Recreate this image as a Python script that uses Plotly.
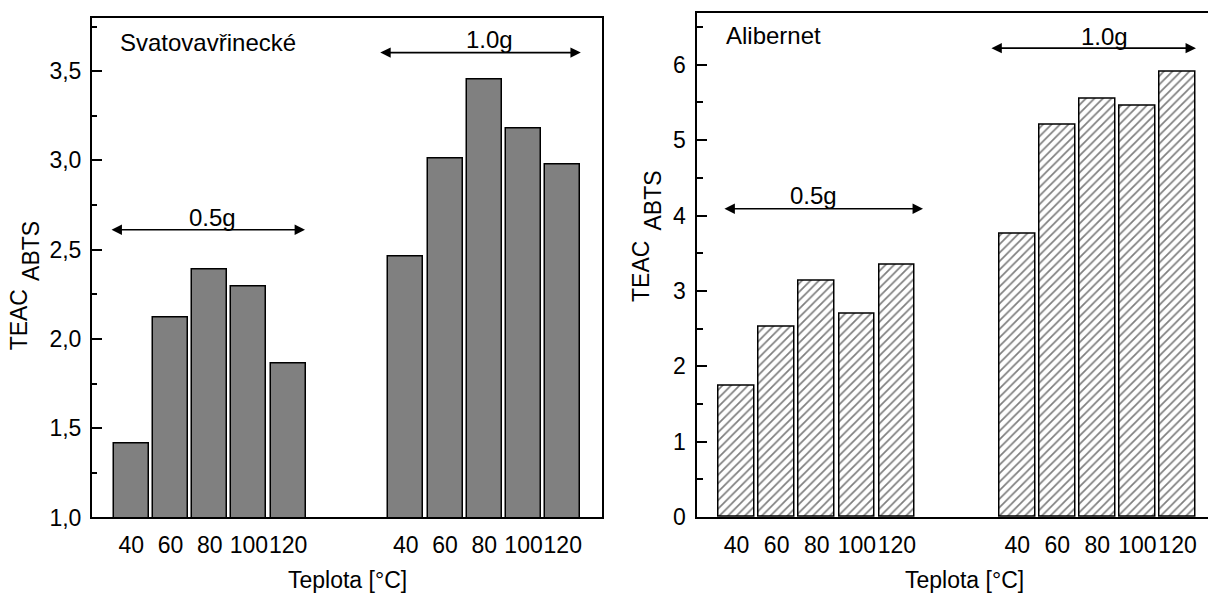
import plotly.graph_objects as go

# ---- data ----
temps = [40, 60, 80, 100, 120]
sv_05 = [1.413, 2.118, 2.387, 2.292, 1.862]   # Svatovavřinecké 0.5 g
sv_10 = [2.464, 3.012, 3.452, 3.178, 2.977]   # Svatovavřinecké 1.0 g
al_05 = [1.747, 2.529, 3.139, 2.694, 3.351]   # Alibernet 0.5 g
al_10 = [3.757, 5.210, 5.551, 5.460, 5.910]   # Alibernet 1.0 g
tick_labels = [str(t) for t in temps]

W, H = 1208, 596
FONT = "Liberation Sans, Arial, sans-serif"
FS = 23

pos_a = [i + 1 for i in range(len(temps))]        # first group
pos_b = [i + 8 for i in range(len(temps))]        # second group

def px(x):
    return x / W

def py(y):
    return 1 - y / H

fig = go.Figure()

fig.add_trace(go.Bar(x=pos_a, y=sv_05, xaxis="x", yaxis="y", width=0.89,
                     marker=dict(color="#808080", line=dict(color="black", width=1.5)),
                     showlegend=False, name="0.5g"))
fig.add_trace(go.Bar(x=pos_b, y=sv_10, xaxis="x", yaxis="y", width=0.89,
                     marker=dict(color="#808080", line=dict(color="black", width=1.5)),
                     showlegend=False, name="1.0g"))

hatch = dict(shape="/", size=6, solidity=0.28, fgcolor="black", bgcolor="white")
fig.add_trace(go.Bar(x=pos_a, y=al_05, xaxis="x2", yaxis="y2", width=0.89,
                     marker=dict(color="white", pattern=hatch, line=dict(color="black", width=1.5)),
                     showlegend=False, name="0.5g"))
fig.add_trace(go.Bar(x=pos_b, y=al_10, xaxis="x2", yaxis="y2", width=0.89,
                     marker=dict(color="white", pattern=hatch, line=dict(color="black", width=1.5)),
                     showlegend=False, name="1.0g"))

tickvals = pos_a + pos_b
ticktext = tick_labels + tick_labels

xcommon = dict(tickmode="array", tickvals=tickvals, ticktext=ticktext, ticks="",
               showgrid=False, zeroline=False, showline=True, linecolor="black",
               linewidth=2, tickangle=0, tickfont=dict(family=FONT, size=FS, color="black"),
               ticklabelstandoff=6, fixedrange=True)
ycommon = dict(ticks="inside", ticklen=10, tickwidth=1.5, tickcolor="black",
               showgrid=False, zeroline=False, showline=True, linecolor="black",
               linewidth=2, tickfont=dict(family=FONT, size=FS, color="black"),
               ticklabelstandoff=4, fixedrange=True)

fig.update_layout(
    width=W, height=H,
    margin=dict(l=0, r=0, t=0, b=0),
    plot_bgcolor="white", paper_bgcolor="white",
    separators=",.",
    bargap=0,
    font=dict(family=FONT, size=FS, color="black"),
    xaxis=dict(xcommon, domain=[px(92), px(602)], range=[0, 13], mirror=True,
               anchor="y"),
    yaxis=dict(ycommon, domain=[py(529), py(18)], range=[1.0, 3.8], mirror=True,
               tickmode="linear", tick0=1.0, dtick=0.5, tickformat=".1f",
               minor=dict(ticks="inside", ticklen=5, tickwidth=1.5, tickcolor="black",
                          tick0=1.0, dtick=0.25, showgrid=False),
               anchor="x"),
    xaxis2=dict(xcommon, domain=[px(696.5), 1.0], range=[0, 12.76], mirror=True,
                anchor="y2"),
    yaxis2=dict(ycommon, domain=[py(528.7), py(13)], range=[0, 6.69], mirror=False,
                tickmode="linear", tick0=0, dtick=1,
                minor=dict(ticks="inside", ticklen=6, tickwidth=1.5, tickcolor="black",
                           tick0=0, dtick=0.5, showgrid=False),
                anchor="x2"),
)

def text_ann(text, x, y, xanchor="center", angle=0, size=FS, yanchor="middle", yshift=0):
    fig.add_annotation(text=text, x=px(x), y=py(y), xref="paper", yref="paper",
                       xanchor=xanchor, yanchor=yanchor, showarrow=False, yshift=yshift,
                       textangle=angle, font=dict(family=FONT, size=size, color="black"))

def arrow(xa, xb, yv, xr, yr):
    fig.add_annotation(x=xb, y=yv, ax=xa, ay=yv, xref=xr, yref=yr, axref=xr, ayref=yr,
                       text="", showarrow=True, arrowhead=2, arrowside="end+start",
                       arrowsize=1.3, arrowwidth=1.6, arrowcolor="black",
                       standoff=0, startstandoff=0)

# left panel labels
text_ann("Svatovavřinecké", 118, 43, xanchor="left", size=24)
text_ann("0.5g", 212.5, 222, size=24)
text_ann("1.0g", 489, 40, size=24)
arrow(0.46, 5.43, 2.612, "x", "y")
arrow(7.31, 12.46, 3.604, "x", "y")
text_ann("TEAC", 18.5, 327, angle=-90)
text_ann("ABTS", 31.5, 257, angle=-90)
text_ann("Teplota [°C]", 348, 583, yshift=-10)

# right panel labels
text_ann("Alibernet", 724, 36, xanchor="left", size=24)
text_ann("0.5g", 813, 200, size=24)
text_ann("1.0g", 1104, 37, size=24)
arrow(0.66, 5.65, 4.09, "x2", "y2")
arrow(7.32, 12.46, 6.22, "x2", "y2")
text_ann("TEAC", 641.5, 277.5, angle=-90)
text_ann("ABTS", 653, 205, angle=-90)
text_ann("Teplota [°C]", 964, 583, yshift=-10)

fig.write_html("out.html", config={"displayModeBar": False})
